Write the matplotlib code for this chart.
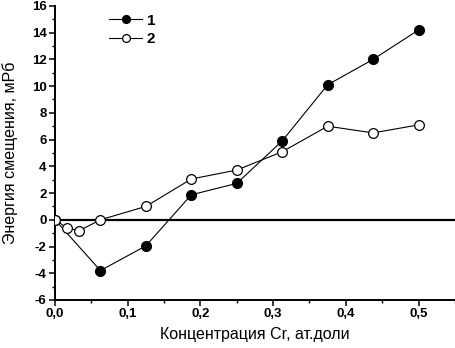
import numpy as np
import matplotlib.pyplot as plt
from matplotlib.ticker import MultipleLocator, FuncFormatter

plt.rcParams['font.family'] = ['Liberation Sans', 'DejaVu Sans']

# series 1 (filled circles)
x1 = [0.0, 0.0625, 0.125, 0.1875, 0.25, 0.3125, 0.375, 0.4375, 0.5]
y1 = [0.0, -3.8, -1.95, 1.87, 2.72, 5.9, 10.1, 12.0, 14.2]

# series 2 (open circles)
x2 = [0.0, 0.0167, 0.0333, 0.0625, 0.125, 0.1875, 0.25, 0.3125, 0.375, 0.4375, 0.5]
y2 = [0.0, -0.62, -0.82, 0.0, 1.0, 3.05, 3.72, 5.09, 7.0, 6.5, 7.1]

fig = plt.figure(figsize=(4.56, 3.48), dpi=100)
ax = fig.add_axes([0.1206, 0.138, 0.877, 0.845])

ax.axhline(0, color='black', linewidth=1.6, zorder=1)

ax.plot(x1, y1, '-', color='black', linewidth=0.8, marker='o', markersize=7,
        markerfacecolor='black', markeredgecolor='black', zorder=3, label='1')
ax.plot(x2, y2, '-', color='black', linewidth=0.8, marker='o', markersize=7,
        markerfacecolor='white', markeredgecolor='black', markeredgewidth=0.9,
        zorder=4, label='2')

ax.set_xlim(0, 0.55)
ax.set_ylim(-6, 16)
ax.xaxis.set_major_locator(MultipleLocator(0.1))
ax.xaxis.set_minor_locator(MultipleLocator(0.05))
ax.yaxis.set_major_locator(MultipleLocator(2))
ax.yaxis.set_minor_locator(MultipleLocator(1))
ax.xaxis.set_major_formatter(FuncFormatter(lambda v, p: f'{v:.1f}'.replace('.', ',')))
ax.yaxis.set_major_formatter(FuncFormatter(lambda v, p: f'{v:.0f}'))

for s in ['top', 'right']:
    ax.spines[s].set_visible(False)
for s in ['left', 'bottom']:
    ax.spines[s].set_linewidth(1.4)

ax.tick_params(which='major', direction='out', length=4, width=1.1,
               labelsize=9.5, pad=2)
ax.tick_params(which='minor', direction='out', length=2, width=1.0)
for lbl in ax.get_xticklabels() + ax.get_yticklabels():
    lbl.set_fontweight('bold')

ax.set_xlabel('Концентрация Cr, ат.доли', fontsize=11.5, labelpad=5)
ax.set_ylabel('Энергия смещения, мРб', fontsize=11.5, labelpad=10)

leg = ax.legend(loc='upper left', bbox_to_anchor=(0.1, 1.02), frameon=False,
                fontsize=11, handlelength=2.2, handletextpad=0.3,
                labelspacing=0.3, markerscale=0.8)
for t in leg.get_texts():
    t.set_fontweight('bold')

fig.savefig('out.png', dpi=100)
